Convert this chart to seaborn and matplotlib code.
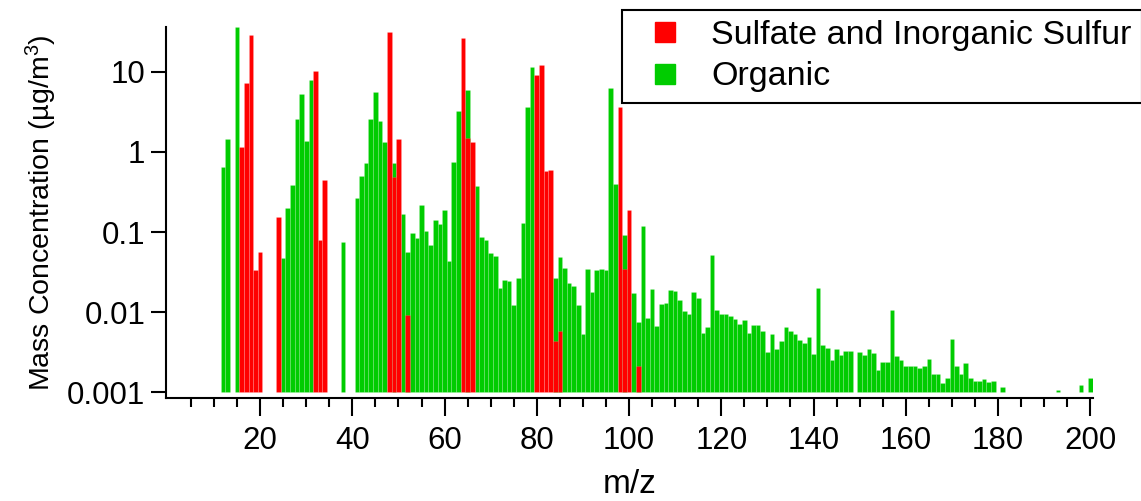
import numpy as np
import pandas as pd
import matplotlib
matplotlib.use("Agg")
import matplotlib.pyplot as plt
from matplotlib.ticker import FixedLocator, NullLocator
from matplotlib.lines import Line2D
import seaborn as sns

# ---------------- data ----------------
organic_mz = [12, 13, 15, 25, 26, 27, 28, 29, 30, 31, 38, 41, 42, 43, 44, 45, 46, 47,
              49, 51, 52, 53, 54, 55, 56, 57, 58, 59, 60, 61, 62, 63, 65, 67, 68, 69,
              70, 71, 72, 73, 74, 75, 76, 77, 78, 79, 84, 85, 86, 87, 88, 89, 90, 91,
              92, 93, 94, 95, 96, 97, 99, 101, 102, 103, 104, 105, 106, 107, 108, 109,
              110, 111, 112, 113, 114, 115, 116, 117, 118, 119, 120, 121, 122, 123,
              124, 125, 126, 127, 128, 129, 130, 131, 132, 133, 134, 135, 136, 137,
              138, 139, 140, 141, 142, 143, 144, 145, 146, 147, 148, 150, 151, 152,
              153, 154, 155, 156, 157, 158, 159, 160, 161, 162, 163, 164, 165, 166,
              167, 168, 169, 170, 171, 172, 173, 174, 175, 176, 177, 178, 179, 181,
              193, 198, 200]
organic_val = [0.64, 1.43, 35.7, 0.047, 0.20, 0.39, 2.57, 5.26, 1.35, 7.95, 0.075, 0.265,
               0.50, 0.72, 2.54, 5.57, 2.43, 1.33, 0.73, 0.168, 0.056, 0.097, 0.083, 0.215,
               0.104, 0.068, 0.14, 0.127, 0.19, 0.044, 0.75, 3.2, 5.85, 0.38, 0.086, 0.079,
               0.055, 0.050, 0.0198, 0.025, 0.0245, 0.0123, 0.027, 0.13, 3.6, 11.4, 0.027,
               0.049, 0.036, 0.023, 0.021, 0.0123, 0.0053, 0.035, 0.018, 0.034, 0.035,
               0.034, 6.25, 0.40, 0.093, 0.0175, 0.0076, 0.12, 0.0085, 0.0196, 0.0067,
               0.0126, 0.0131, 0.0187, 0.0182, 0.0142, 0.0102, 0.0096, 0.0177, 0.0149,
               0.0055, 0.0065, 0.051, 0.0105, 0.0096, 0.0094, 0.0090, 0.0082, 0.0072,
               0.0079, 0.0055, 0.0069, 0.0069, 0.0059, 0.0032, 0.0053, 0.0035, 0.0044,
               0.0065, 0.0058, 0.0053, 0.0045, 0.0041, 0.0049, 0.0030, 0.020, 0.0039,
               0.0036, 0.0025, 0.0035, 0.0029, 0.0033, 0.0033, 0.0032, 0.0029, 0.0035,
               0.0031, 0.0019, 0.0024, 0.0024, 0.0105, 0.0028, 0.0025, 0.0021, 0.0021,
               0.0021, 0.0020, 0.0021, 0.0026, 0.0017, 0.0017, 0.0013, 0.0015, 0.0046,
               0.0021, 0.0017, 0.0023, 0.0015, 0.0014, 0.0014, 0.00148, 0.00136, 0.0014,
               0.00116, 0.00107, 0.00123, 0.0015]

sulfate_mz = [16, 17, 18, 19, 20, 24, 32, 33, 34, 48, 49, 50, 52, 64, 65, 66,
              80, 81, 82, 83, 84, 85, 98, 99, 100, 102]
sulfate_val = [1.15, 7.3, 29.0, 0.034, 0.057, 0.154, 10.1, 0.079, 0.44, 31.0, 0.48, 1.45,
               0.0092, 26.5, 1.5, 1.33, 9.0, 12.0, 0.57, 0.6, 0.0044, 0.0058, 3.6, 0.035,
               0.188, 0.0021]

series_names = ["Sulfate and Inorganic Sulfur", "Organic"]
series_colors = ["#FF0000", "#00CC00"]

x_major = [20, 40, 60, 80, 100, 120, 140, 160, 180, 200]
y_ticks = [0.001, 0.01, 0.1, 1, 10]
y_ticklabels = ["0.001", "0.01", "0.1", "1", "10"]

BASE = 0.001

# ---------------- style ----------------
sns.set_style("ticks")
plt.rcParams["font.family"] = ["Liberation Sans", "DejaVu Sans"]
plt.rcParams["mathtext.fontset"] = "custom"
plt.rcParams["mathtext.rm"] = "Liberation Sans"
plt.rcParams["mathtext.it"] = "Liberation Sans:italic"
for k in ["text.color", "axes.labelcolor", "xtick.color", "ytick.color", "axes.edgecolor"]:
    plt.rcParams[k] = "black"

fig = plt.figure(figsize=(11.41, 5.01), dpi=100)
ax = fig.add_axes([166 / 1141, 1 - 398 / 501, (1093 - 166) / 1141, (398 - 27) / 501])

df_org = pd.DataFrame({"mz": organic_mz, "h": np.array(organic_val) - BASE})
df_sul = pd.DataFrame({"mz": sulfate_mz, "h": np.array(sulfate_val) - BASE})

bar_kws = dict(native_scale=True, width=1, saturation=1, errorbar=None,
               bottom=BASE, linewidth=0.4, ax=ax)
sns.barplot(data=df_org, x="mz", y="h", color=series_colors[1],
            edgecolor=(1, 1, 1, 0.22), **bar_kws)
sns.barplot(data=df_sul, x="mz", y="h", color=series_colors[0],
            edgecolor=(1, 1, 1, 0.22), **bar_kws)

ax.set_yscale("log")
ax.set_ylim(10 ** (-3 - 5.7 / 80.15), 10 ** (1 + 44.7 / 80.15))
ax.set_xlim(-0.4, 200.6)

ax.yaxis.set_major_locator(FixedLocator(y_ticks))
ax.set_yticklabels(y_ticklabels)
ax.yaxis.set_minor_locator(NullLocator())

ax.xaxis.set_major_locator(FixedLocator(x_major))
ax.set_xticklabels([str(v) for v in x_major])
ax.xaxis.set_minor_locator(FixedLocator([v for v in range(5, 200, 5) if v % 20 != 0]))

for s in ["top", "right"]:
    ax.spines[s].set_visible(False)
for s in ["left", "bottom"]:
    ax.spines[s].set_linewidth(1.5)
    ax.spines[s].set_color("black")

ax.tick_params(axis="x", which="major", direction="out", length=13, width=1.5,
               labelsize=22.5, pad=7, color="black", labelcolor="black")
ax.tick_params(axis="x", which="minor", direction="out", length=6.5, width=1.5,
               color="black")
ax.tick_params(axis="y", which="major", direction="out", length=11, width=1.5,
               labelsize=22.5, pad=4, color="black", labelcolor="black")

ax.set_xlabel("m/z", fontsize=24, labelpad=9.5)
ax.set_ylabel("Mass Concentration (µg/m$^{3}$)", fontsize=20.5, labelpad=6)
ax.grid(False)

handles = [Line2D([0], [0], linestyle="none", marker="s", markersize=15,
                  markerfacecolor=c, markeredgecolor=c) for c in series_colors]
leg = fig.legend(handles, series_names, loc="upper left",
                 bbox_to_anchor=(622 / 1141, 1 - 10 / 501),
                 bbox_transform=fig.transFigure,
                 fontsize=24.5, frameon=True, fancybox=False, framealpha=1,
                 edgecolor="black", borderpad=0.3, handlelength=1.9,
                 handletextpad=0.42, labelspacing=0.3, borderaxespad=0)
leg.get_frame().set_linewidth(1.5)

fig.savefig("out.png", dpi=100)
